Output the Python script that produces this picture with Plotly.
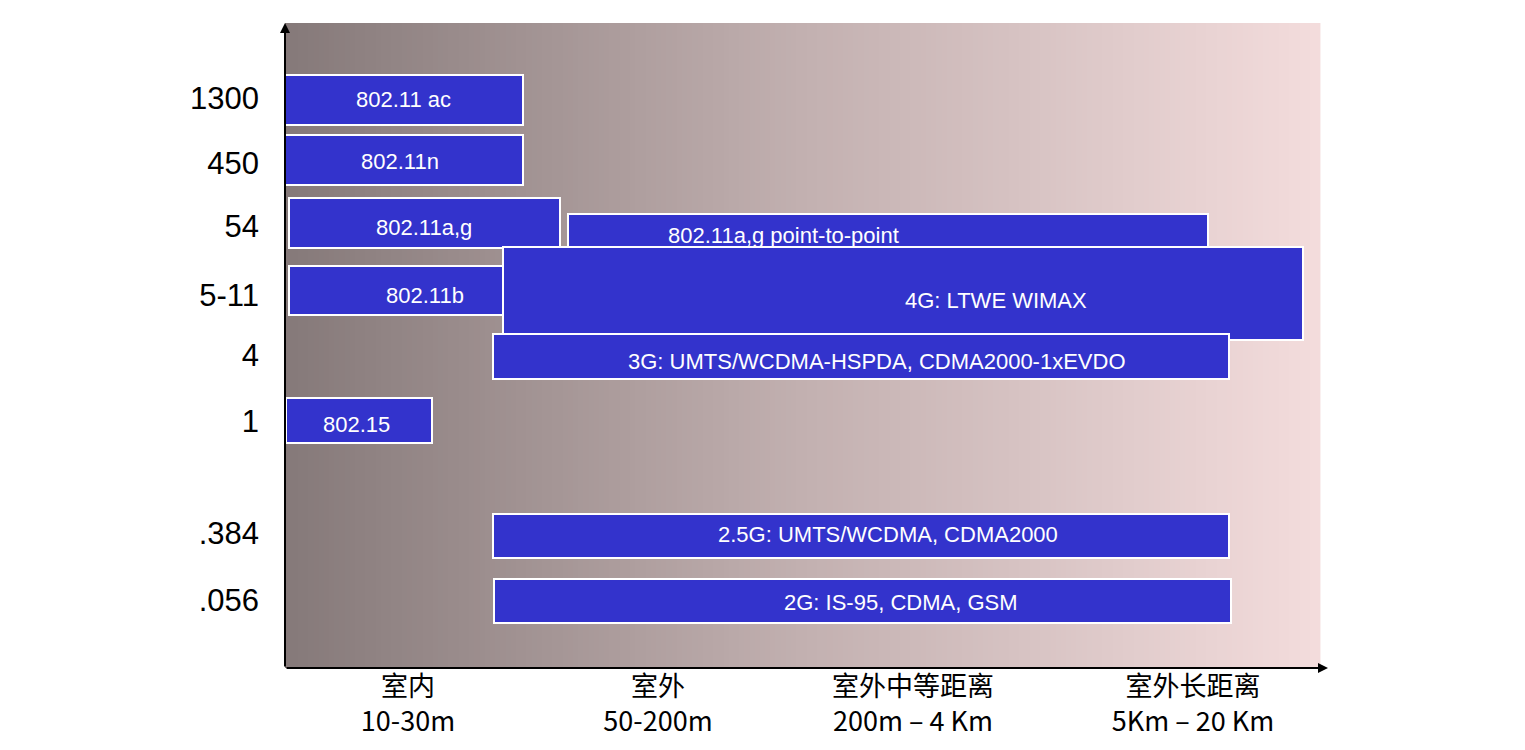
import plotly.graph_objects as go
import numpy as np

# coordinates: x = pixel offset from left axis, y = pixel offset from top (reversed axis)
names = ["802.11 ac", "802.11n", "802.11a,g", "802.11a,g point-to-point", "802.11b",
         "4G: LTWE WIMAX", "3G: UMTS/WCDMA-HSPDA, CDMA2000-1xEVDO", "802.15",
         "2.5G: UMTS/WCDMA, CDMA2000", "2G: IS-95, CDMA, GSM"]
x0 = [0, 0, 4, 283, 4, 218, 208, 1, 208, 209]
x1 = [238, 238, 275, 923, 218, 1018, 944, 147, 944, 946]
y0 = [52, 112, 175, 191, 243, 224, 311, 375, 491, 556]
y1 = [102, 162, 225, 235, 292, 317, 356, 420, 535, 600]
label_x = [118, 115, 139, 498, 140, 711, 592, 71, 603, 616]
label_y = [76, 138, 204, 212, 272, 277, 338, 401, 511, 579]

ytick_vals = [75, 140, 203, 272, 332, 398, 510, 577]
ytick_text = ["1300", "450", "54", "5-11", "4", "1", ".384", ".056"]
xtick_vals = [123, 373, 628, 908]
xtick_text = ["室内<br>10-30m", "室外<br>50-200m", "室外中等距离<br>200m – 4 Km", "室外长距离<br>5Km – 20 Km"]

fig = go.Figure()

# gradient background
gx = np.linspace(0, 1033, 200)
fig.add_trace(go.Heatmap(x=gx, y=[23, 645], z=[gx, gx], showscale=False, hoverinfo="skip",
                         colorscale=[[0, "#857979"], [0.5, "#c2b0b0"], [1, "#f3dcdc"]]))

shapes = []
annotations = []
for i, n in enumerate(names):
    shapes.append(dict(type="rect", x0=x0[i], x1=x1[i], y0=y0[i], y1=y1[i],
                       fillcolor="#3333cc", line=dict(color="white", width=2), layer="above"))
    annotations.append(dict(x=label_x[i], y=label_y[i], text=n, showarrow=False,
                            font=dict(color="white", size=22, family="Liberation Sans"),
                            xanchor="center", yanchor="middle"))

# axis arrows
annotations.append(dict(x=0, y=0, ax=0, ay=645, xref="x", yref="y", axref="x", ayref="y",
                        showarrow=True, arrowhead=2, arrowsize=1, arrowwidth=2, arrowcolor="black", text=""))
annotations.append(dict(x=1043, y=645, ax=0, ay=645, xref="x", yref="y", axref="x", ayref="y",
                        showarrow=True, arrowhead=2, arrowsize=1, arrowwidth=2, arrowcolor="black", text=""))
annotations.append(dict(x=-125, y=375, xref="x", yref="y", text="传输速率 (Mbps)", textangle=-90,
                        showarrow=False, font=dict(size=30, color="black", family="Noto Sans CJK SC")))

fig.update_layout(
    width=1525, height=750, margin=dict(l=277, r=205, t=15, b=90),
    plot_bgcolor="white", paper_bgcolor="white",
    shapes=shapes, annotations=annotations, showlegend=False,
    font=dict(family="Liberation Sans, Noto Sans CJK SC", color="black"),
    xaxis=dict(range=[0, 1043], showgrid=False, zeroline=False, tickvals=xtick_vals,
               ticktext=xtick_text, tickfont=dict(size=27, family="Noto Sans CJK SC"), ticks=""),
    yaxis=dict(range=[645, 0], showgrid=False, zeroline=False, tickvals=ytick_vals,
               ticktext=ytick_text, tickfont=dict(size=31), ticks="", ticklabelstandoff=25),
)

fig.write_html("out.html")
